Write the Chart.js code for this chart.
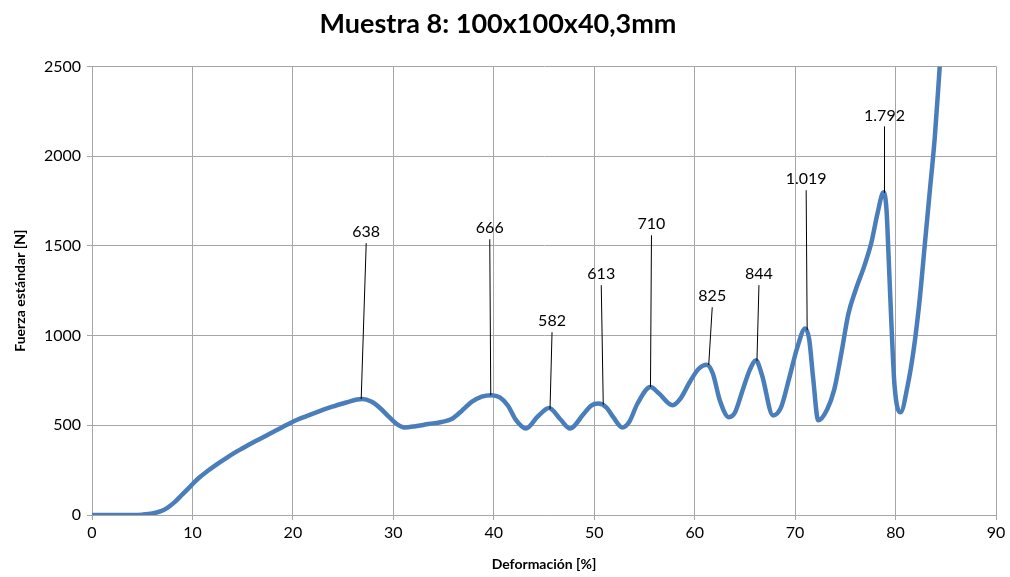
<!DOCTYPE html>
<html>
<head>
<meta charset="utf-8">
<script src="https://cdn.jsdelivr.net/npm/chart.js@4.4.0/dist/chart.umd.min.js"></script>
<style>
  html, body { margin: 0; padding: 0; background: #fff; }
  #wrap { width: 1010px; height: 577px; }
</style>
</head>
<body>
<div id="wrap"><canvas id="grafico"></canvas></div>
<script>
// Datos
const deformacion = [0, 2, 4, 5, 6, 6.8, 7.5, 8.2, 9, 9.8, 10.6, 11.5, 12.5, 13.7, 15, 16.3, 17.6, 18.8, 20,
    21.3, 22.6, 24, 25.3, 26.9, 27.8, 28.7, 29.6, 30.4, 31.1, 32.2, 33.5, 34.8, 35.8, 36.8, 37.8, 38.8,
    39.8, 40.6, 41.4, 42.2, 43.2, 44.4, 45.5, 46.6, 47.6, 48.9, 49.7, 50.4, 51.2, 51.9,
    52.8, 53.5, 54.3, 55.6, 56.4, 57.8, 58.6, 59.5, 60.4, 61.2, 61.8, 62.5, 63.4, 64.0, 64.8,
    65.5, 66.1, 66.7, 67.8, 68.6, 69.4, 70.2, 71.0, 71.4, 71.8, 72.3, 73.2, 73.9, 74.6, 75.3,
    76.0, 76.9, 77.6, 78.2, 78.8, 79.1, 79.3, 79.6, 79.9, 80.5, 81.2, 81.8, 82.4, 82.9, 83.4, 83.9, 84.4];
const fuerza = [0, 0, 0, 2, 8, 20, 40, 70, 115, 160, 205, 245, 285, 330, 372, 412, 450, 485, 520,
    550, 578, 605, 627, 646, 632, 595, 545, 505, 488, 495, 507, 518, 535, 580, 630, 660,
    668, 655, 610, 530, 482, 550, 596, 535, 482, 560, 610, 621, 600, 545,
    488, 520, 620, 713, 680, 612, 650, 740, 815, 838, 790, 640, 545, 570, 700,
    810, 862, 780, 555, 600, 760, 930, 1040, 980, 760, 528, 590, 700, 900, 1120,
    1250, 1390, 1520, 1680, 1798, 1700, 1450, 1050, 720, 572, 720, 920, 1200, 1500, 1800, 2100, 2500];

const xTicks = [0, 10, 20, 30, 40, 50, 60, 70, 80, 90];
const yTicks = [0, 500, 1000, 1500, 2000, 2500];

// Etiquetas de picos
const picoTexto = ['638', '666', '582', '613', '710', '825', '844', '1.019', '1.792'];
const picoX = [26.8, 39.7, 45.6, 50.9, 55.6, 61.4, 66.2, 71.2, 78.9];
const picoY = [646, 668, 590, 615, 713, 836, 858, 1030, 1795];
const textoX = [27.3, 39.6, 45.8, 50.7, 55.7, 61.75, 66.4, 71.1, 78.9];
const textoY = [1576, 1598, 1080, 1342, 1620, 1219, 1342, 1871, 2227];

const fuente = 'Lato, "Open Sans", sans-serif';

const etiquetasPlugin = {
    id: 'etiquetas',
    afterDatasetsDraw(chart) {
        const ctx = chart.ctx;
        const xs = chart.scales.x, ys = chart.scales.y;
        ctx.save();
        ctx.font = '16px ' + fuente;
        ctx.fillStyle = '#000';
        ctx.strokeStyle = '#000';
        ctx.lineWidth = 1;
        ctx.textAlign = 'center';
        ctx.textBaseline = 'middle';
        for (let i = 0; i < picoTexto.length; i++) {
            const tx = xs.getPixelForValue(textoX[i]);
            const ty = ys.getPixelForValue(textoY[i]);
            const px = xs.getPixelForValue(picoX[i]);
            const py = ys.getPixelForValue(picoY[i]);
            ctx.fillText(picoTexto[i], tx, ty);
            ctx.beginPath();
            ctx.moveTo(tx, ty + 11);
            ctx.lineTo(px, py);
            ctx.stroke();
        }
        ctx.restore();
    }
};

const puntos = deformacion.map((x, i) => ({ x: x, y: fuerza[i] }));

new Chart(document.getElementById('grafico').getContext('2d'), {
    type: 'line',
    data: {
        datasets: [{
            data: puntos,
            borderColor: '#4a7ebb',
            borderWidth: 4.5,
            pointRadius: 0,
            fill: false,
            cubicInterpolationMode: 'monotone'
        }]
    },
    options: {
        responsive: true,
        maintainAspectRatio: false,
        animation: false,
        layout: { padding: { left: 0, right: 14, top: 0, bottom: 0 } },
        plugins: {
            legend: { display: false },
            tooltip: { enabled: false },
            title: {
                display: true,
                text: 'Muestra 8: 100x100x40,3mm',
                color: '#000',
                font: { family: fuente, size: 27, weight: 'bold' },
                padding: { top: 8, bottom: 26 }
            }
        },
        scales: {
            x: {
                type: 'linear',
                min: 0,
                max: 90,
                afterBuildTicks: (s) => { s.ticks = xTicks.map(v => ({ value: v })); },
                afterFit: (s) => { s.height = 62; },
                grid: { color: '#a6a6a6', tickLength: 5 },
                border: { color: '#a6a6a6' },
                ticks: { color: '#000', font: { family: fuente, size: 16 }, padding: 3, maxRotation: 0 },
                title: {
                    display: true,
                    text: 'Deformación [%]',
                    color: '#000',
                    font: { family: fuente, size: 14, weight: 'bold' },
                    padding: { top: 8 }
                }
            },
            y: {
                min: 0,
                max: 2500,
                afterBuildTicks: (s) => { s.ticks = yTicks.map(v => ({ value: v })); },
                afterFit: (s) => { s.width = 92; },
                grid: { color: '#a6a6a6', tickLength: 5 },
                border: { color: '#a6a6a6' },
                ticks: {
                    color: '#000',
                    font: { family: fuente, size: 16 },
                    padding: 6,
                    callback: (v) => String(v)
                },
                title: {
                    display: true,
                    text: 'Fuerza estándar [N]',
                    color: '#000',
                    font: { family: fuente, size: 14, weight: 'bold' },
                    padding: { top: 12, bottom: 4 }
                }
            }
        }
    },
    plugins: [etiquetasPlugin]
});
</script>
</body>
</html>
